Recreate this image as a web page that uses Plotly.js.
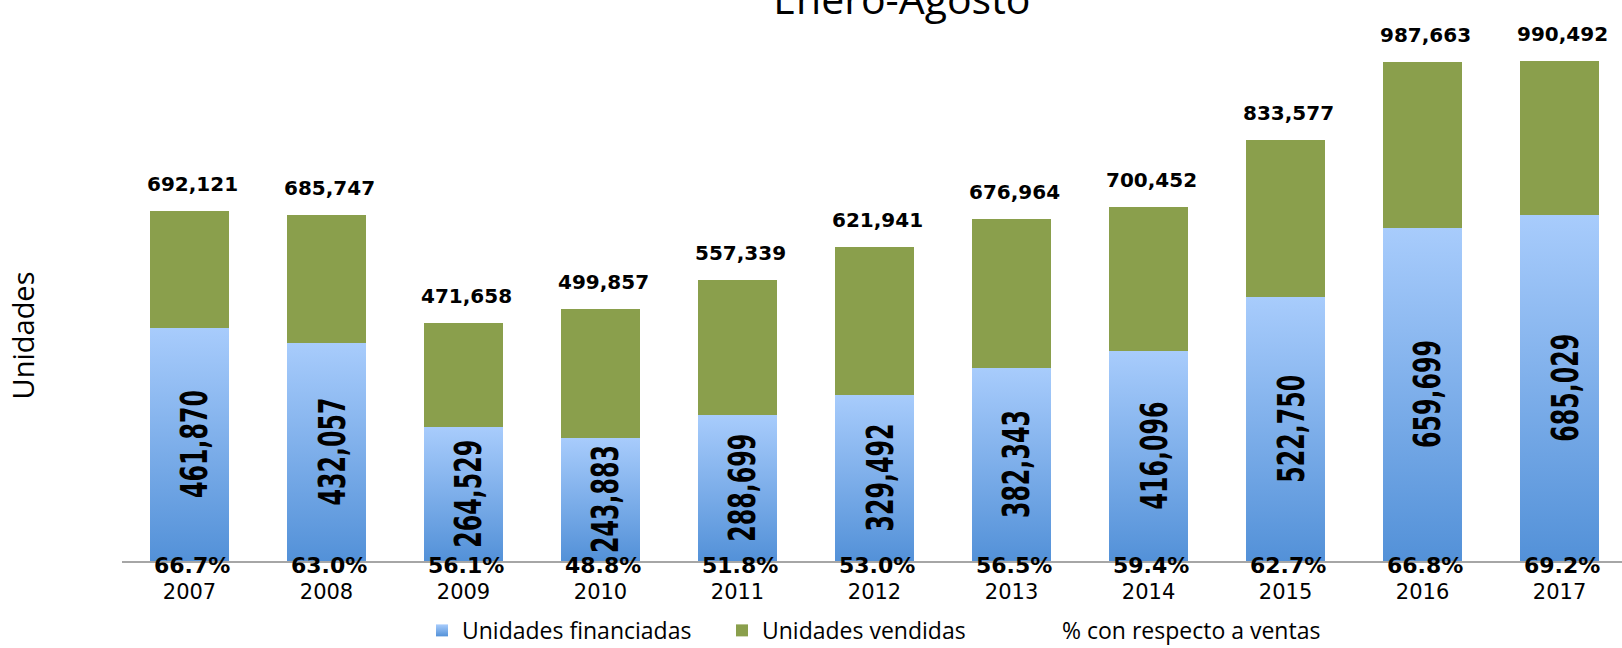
<!DOCTYPE html>
<html>
<head>
<meta charset="utf-8">
<script src="https://cdn.plot.ly/plotly-3.0.1.min.js"></script>
<style>
  html, body { margin: 0; padding: 0; background: #fff; overflow: hidden; }
  #chart { width: 1622px; height: 648px; }
</style>
</head>
<body>
<div id="chart"></div>
<script>
// data (Enero-Agosto)
var years = ["2007", "2008", "2009", "2010", "2011", "2012", "2013", "2014", "2015", "2016", "2017"];
var financiadas = [461870, 432057, 264529, 243883, 288699, 329492, 382343, 416096, 522750, 659699, 685029];
var vendidas = [692121, 685747, 471658, 499857, 557339, 621941, 676964, 700452, 833577, 987663, 990492];
var pctLabels = ["66.7%", "63.0%", "56.1%", "48.8%", "51.8%", "53.0%", "56.5%", "59.4%", "62.7%", "66.8%", "69.2%"];

var fmt = n => n.toLocaleString("en-US");

// green part is the rest of the sold units on top of the financed ones
var resto = vendidas.map((v, i) => v - financiadas[i]);

var traceFin = {
  x: years,
  y: financiadas,
  type: "bar",
  name: "Unidades financiadas",
  marker: {color: "#7AAEEA"},
  hoverinfo: "skip"
};

var traceVen = {
  x: years,
  y: resto,
  type: "bar",
  name: "Unidades vendidas",
  marker: {color: "#8A9F4C"},
  hoverinfo: "skip"
};

// only here for its legend entry, the labels are annotations
var tracePct = {
  x: years,
  y: pctLabels.map(p => parseFloat(p)),
  type: "scatter",
  mode: "lines",
  yaxis: "y2",
  name: "% con respecto a ventas",
  line: {width: 0, color: "rgba(0,0,0,0)"},
  hoverinfo: "skip"
};

var data = [traceFin, traceVen, tracePct];

var annotations = [];

// category axis -> annotations use the category index
years.forEach((yr, i) => {
  // totals above the bars
  annotations.push({
    x: i, y: vendidas[i], xref: "x", yref: "y",
    text: fmt(vendidas[i]),
    showarrow: false, xanchor: "center", yanchor: "bottom", yshift: 13, xshift: 3,
    font: {family: "DejaVu Sans", size: 20, color: "#000", weight: "bold"}
  });
  // financed units, rotated inside the blue part
  annotations.push({
    x: i, y: financiadas[i] / 2, xref: "x", yref: "y",
    text: fmt(financiadas[i]),
    showarrow: false, textangle: -90, xanchor: "center", yanchor: "middle", xshift: 5,
    font: {family: "DejaVu Sans Condensed, sans-serif", size: 38, color: "#000", weight: "bold"}
  });
  // percentages sitting on the axis
  annotations.push({
    x: i, y: 0, xref: "x", yref: "y",
    text: pctLabels[i],
    showarrow: false, xanchor: "center", yanchor: "middle", yshift: -4, xshift: 2,
    font: {family: "DejaVu Sans", size: 22, color: "#000", weight: "bold"}
  });
});

// y axis title
annotations.push({
  x: -0.0663, y: 0.432, xref: "paper", yref: "paper",
  text: "Unidades", textangle: -90, showarrow: false,
  xanchor: "center", yanchor: "middle",
  font: {family: "Open Sans", size: 29, color: "#000"}
});

var layout = {
  width: 1622,
  height: 648,
  margin: {l: 122, r: 0, t: 40, b: 87, autoexpand: false},
  paper_bgcolor: "#fff",
  plot_bgcolor: "#fff",
  title: {
    text: "Enero-Agosto",
    x: 0.556, xref: "container", xanchor: "center",
    y: 0.9784, yref: "container", yanchor: "bottom",
    font: {family: "Open Sans", size: 41, color: "#000"}
  },
  barmode: "stack",
  bargap: 0.423,
  showlegend: true,
  legend: {
    orientation: "h",
    x: 0.5, xanchor: "center",
    y: -0.092, yanchor: "top",
    entrywidth: 255,
    font: {family: "Open Sans", size: 23, color: "#000"},
    traceorder: "normal"
  },
  xaxis: {
    type: "category",
    range: [-0.4927, 10.456],
    showline: true, linecolor: "#A6A6A6", linewidth: 2,
    ticks: "", showgrid: false, zeroline: false,
    tickfont: {family: "DejaVu Sans", size: 21, color: "#000"},
    ticklabelstandoff: 11
  },
  yaxis: {
    range: [0, 1031683],
    showticklabels: false, showgrid: false, zeroline: false,
    ticks: "", showline: false
  },
  yaxis2: {
    overlaying: "y", range: [0, 100], visible: false
  },
  annotations: annotations
};

Plotly.newPlot("chart", data, layout, {staticPlot: true}).then(function(gd) {
  // Excel-like vertical gradient on the financed bars and their legend key
  var svg = gd.querySelector(".main-svg");
  var ns = "http://www.w3.org/2000/svg";
  var defs = svg.querySelector("defs") || svg.insertBefore(document.createElementNS(ns, "defs"), svg.firstChild);
  var grad = document.createElementNS(ns, "linearGradient");
  grad.setAttribute("id", "finGrad");
  grad.setAttribute("x1", "0"); grad.setAttribute("y1", "0");
  grad.setAttribute("x2", "0"); grad.setAttribute("y2", "1");
  [["0", "#A8CCFC"], ["1", "#5391D8"]].forEach(function(s) {
    var stop = document.createElementNS(ns, "stop");
    stop.setAttribute("offset", s[0]);
    stop.setAttribute("stop-color", s[1]);
    grad.appendChild(stop);
  });
  defs.appendChild(grad);
  var barTraces = gd.querySelectorAll(".barlayer .trace");
  if (barTraces.length) {
    barTraces[0].querySelectorAll("path").forEach(function(p) { p.style.fill = "url(#finGrad)"; });
  }
  var legTraces = gd.querySelectorAll(".legend .traces");
  if (legTraces.length) {
    legTraces[0].querySelectorAll(".legendpoints path").forEach(function(p) { p.style.fill = "url(#finGrad)"; });
  }
  // the rotated numbers in the original are a tall narrow bold face: squeeze them
  var inside = financiadas.map(fmt);
  gd.querySelectorAll(".annotation-text").forEach(function(t) {
    if (inside.indexOf(t.textContent) >= 0) {
      t.setAttribute("textLength", "108");
      t.setAttribute("lengthAdjust", "spacingAndGlyphs");
    }
  });
});
</script>
</body>
</html>
